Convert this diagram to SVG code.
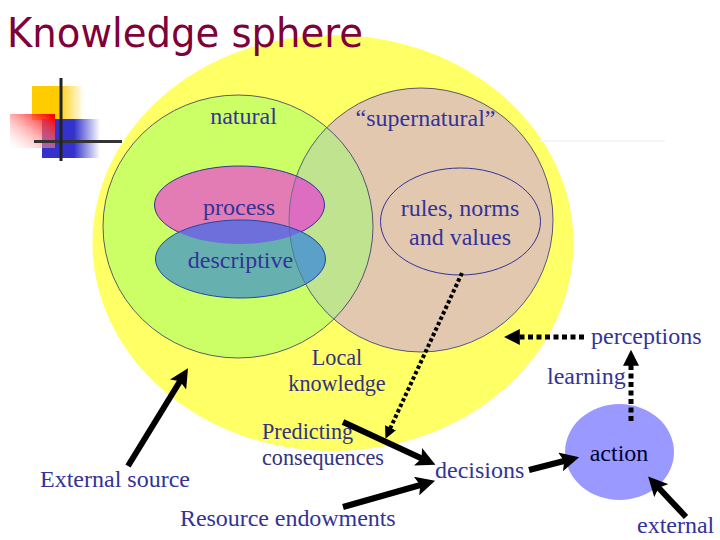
<svg xmlns="http://www.w3.org/2000/svg" width="720" height="540" viewBox="0 0 720 540">
<style>
text{font-family:"Liberation Serif","Times New Roman",serif;font-size:24px;fill:#333399}
.mid{text-anchor:middle}
.small{font-size:22.200px;fill:#333380}
.outline{fill:none;stroke:#333399;stroke-width:1}
.solid{stroke:#000;stroke-width:6;fill:none;marker-end:url(#head)}
.dots{stroke:#000;stroke-width:5;fill:none;stroke-dasharray:5 3.5;marker-end:url(#headDot)}
.fine{stroke:#000;stroke-width:4;fill:none;stroke-dasharray:3.500 2.500;marker-end:url(#headFine)}
</style>
<defs>
<marker id="head" viewBox="0 0 10 10" markerWidth="3.2" markerHeight="3.2" refX="4" refY="5" orient="auto"><path d="M0 0L10 5L0 10L2 5Z" fill="#000"/></marker>
<marker id="headDot" viewBox="0 0 10 10" markerWidth="3.2" markerHeight="3.2" refX="3" refY="5" orient="auto"><path d="M0 0L10 5L0 10Z" fill="#000"/></marker>
<marker id="headFine" viewBox="0 0 10 10" markerWidth="3" markerHeight="3" refX="3" refY="5" orient="auto"><path d="M0 0L10 5L0 10Z" fill="#000"/></marker>
<linearGradient id="gOrange" x1="0" x2="1" y1="0" y2="0"><stop offset="0.5" stop-color="#FFCC00"/><stop offset="1" stop-color="#FFCC00" stop-opacity="0"/></linearGradient>
<linearGradient id="gBlue" x1="0" x2="1" y1="0" y2="0"><stop offset="0.55" stop-color="#3333CC"/><stop offset="1" stop-color="#3333CC" stop-opacity="0"/></linearGradient>
<linearGradient id="gRed" x1="1" x2="0" y1="0" y2="1"><stop offset="0.05" stop-color="#FF0000"/><stop offset="1" stop-color="#FFFFFF" stop-opacity="0.2"/></linearGradient>
<clipPath id="cNatural"><ellipse cx="238" cy="226.5" rx="135" ry="131.5"/></clipPath>
<clipPath id="cSuper"><ellipse cx="421" cy="220" rx="132" ry="132"/></clipPath>
<clipPath id="cProcess"><ellipse cx="239.5" cy="205" rx="85" ry="39"/></clipPath>
</defs>
<g id="sphere"><ellipse cx="333" cy="243" rx="240.5" ry="208" fill="#FFFF66"/></g>
<text x="7" y="47" style="font-family:'DejaVu Sans',Verdana,sans-serif;font-size:41px;fill:#800038" textLength="356" lengthAdjust="spacingAndGlyphs">Knowledge sphere</text>
<g id="logo">
<rect x="32" y="86" width="52" height="34" fill="url(#gOrange)"/>
<rect x="42" y="119" width="58" height="39" fill="url(#gBlue)"/>
<rect x="10" y="114" width="45" height="34" fill="url(#gRed)"/>
<rect x="34" y="140" width="88" height="3" fill="#333333"/>
<rect x="59.500" y="78" width="3" height="83" fill="#222222"/>
</g>
<rect x="540" y="140" width="125" height="2" fill="#F5F5F5"/>
<g id="natural">
<ellipse cx="238" cy="226.5" rx="135" ry="131.5" fill="#CCFF66" stroke="#333366" stroke-width="0.8"/>
<text x="243.500" y="124" class="mid">natural</text>
</g>
<g id="supernatural">
<ellipse cx="421" cy="220" rx="132" ry="132" fill="#E3C8B0" stroke="#333366" stroke-width="0.8"/>
<ellipse cx="238" cy="226.5" rx="135" ry="131.5" fill="#BFE38F" stroke="#333366" stroke-width="0.8" clip-path="url(#cSuper)"/>
<text x="425.500" y="126" class="mid">“supernatural”</text>
</g>
<g id="process">
<ellipse cx="239.500" cy="205" rx="85" ry="39" fill="#E37CB4"/>
<ellipse cx="421" cy="220" rx="132" ry="132" fill="#DD6DC0" clip-path="url(#cProcess)"/>
<ellipse cx="239.500" cy="205" rx="85" ry="39" class="outline"/>
<text x="239" y="215" class="mid">process</text>
</g>
<g id="descriptive">
<ellipse cx="240.500" cy="259" rx="85" ry="39" fill="#66B0B0"/>
<g clip-path="url(#cSuper)"><ellipse cx="240.500" cy="259" rx="85" ry="39" fill="#5BA0C8"/></g>
<g clip-path="url(#cProcess)"><ellipse cx="240.500" cy="259" rx="85" ry="39" fill="#6E6FDB"/></g>
<ellipse cx="240.500" cy="259" rx="85" ry="39" fill="none" stroke="#2244AA"/>
<text x="240.500" y="268" class="mid">descriptive</text>
</g>
<ellipse cx="421" cy="220" rx="132" ry="132" fill="none" stroke="#4F7080" stroke-width="0.8" clip-path="url(#cNatural)"/>
<g id="rules">
<ellipse cx="460.500" cy="221.500" rx="80" ry="53.500" class="outline"/>
<text x="460" y="216" class="mid">rules, norms</text>
<text x="460" y="245" class="mid">and values</text>
</g>
<g id="action">
<ellipse cx="619.500" cy="452" rx="54.500" ry="48" fill="#9999FF"/>
<text x="619" y="461" class="mid" style="fill:#000033">action</text>
</g>
<g id="labels">
<text x="337" y="365" class="mid small">Local</text>
<text x="337" y="391" class="mid small">knowledge</text>
<text x="262" y="439" class="small">Predicting</text>
<text x="262" y="465" class="small">consequences</text>
<text x="40" y="487">External source</text>
<text x="180" y="526" style="letter-spacing:-0.05px">Resource endowments</text>
<text x="435" y="478">decisions</text>
<text x="591" y="344">perceptions</text>
<text x="547" y="384">learning</text>
<text x="637" y="533">external</text>
</g>
<g id="connectors">
<line x1="128" y1="466" x2="182" y2="378" class="solid"/>
<line x1="343" y1="422" x2="425" y2="460" class="solid"/>
<line x1="343" y1="507" x2="424" y2="484" class="solid"/>
<line x1="529" y1="470" x2="568" y2="460" class="solid"/>
<line x1="686" y1="517" x2="656" y2="485" class="solid"/>
<line x1="584" y1="337" x2="515" y2="337" class="dots"/>
<line x1="631" y1="421" x2="631" y2="361" class="dots"/>
<line x1="462" y1="273" x2="389" y2="431" class="fine"/>
</g>
</svg>
